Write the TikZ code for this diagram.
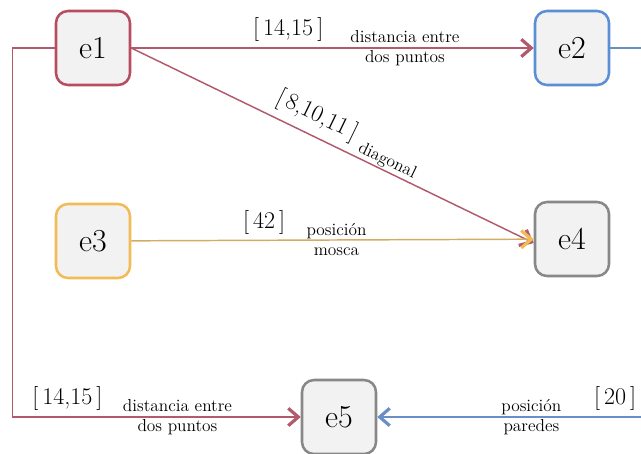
\documentclass[tikz,border=0pt]{standalone}
\usetikzlibrary{arrows.meta}
\definecolor{rojo}{HTML}{B05A6C}
\definecolor{rojoborde}{HTML}{B84C60}
\definecolor{azul}{HTML}{5B8FD4}
\definecolor{azullinea}{HTML}{6A8FC6}
\definecolor{amarillo}{HTML}{F2BB55}
\definecolor{gris}{HTML}{888888}
\definecolor{fondo}{HTML}{F2F2F2}
\tikzset{
  estado/.style={draw=#1, fill=fondo, line width=1.9pt, rounded corners=9pt,
    minimum width=55.5pt, minimum height=55.5pt, font=\fontsize{24}{26}\selectfont},
  flecha/.style 2 args={draw=#1, line width=1.1pt,
    -{Straight Barb[length=7.5pt,width=13pt,line width=2.4pt,color=#2]}},
  valor/.style={font=\fontsize{18}{20}\selectfont, inner sep=1pt},
  texto/.style={font=\fontsize{13}{15}\selectfont, align=center, inner sep=1pt},
}
\begin{document}
\begin{tikzpicture}[x=0.75pt, y=-0.75pt]
\useasboundingbox (0,0) rectangle (641,453);
\clip (0,0) rectangle (641,453);
\node[estado=rojoborde] (e1) at (93,48) {e1};
\node[estado=azul] (e2) at (572,48) {e2};
\node[estado=amarillo] (e3) at (93,241) {e3};
\node[estado=gris] (e4) at (572,239) {e4};
\node[estado=gris] (e5) at (339,417) {e5};
\draw[flecha={rojo}{rojo}] (e1) -- (e2)
  node[valor, pos=0.39, above=3pt] {[\,14,15\,]}
  node[texto, pos=0.68] {distancia entre\\dos puntos};
\draw[flecha={rojo}{rojo}] (e1.east) -- (e4.186)
  node[valor, sloped, pos=0.44, above=4.5pt] {[\,8,10,11\,]}
  node[texto, sloped, pos=0.625, above=0pt] {diagonal};
\draw[flecha={amarillo!70!gris}{amarillo}] (e3) -- (e4)
  node[valor, pos=0.33, above=3pt] {[\,42\,]}
  node[texto, pos=0.51] {posición\\mosca};
\draw[flecha={rojo}{rojo}] (e1.west) -- ++(-42,0) |- (e5)
  node[valor, pos=0.595, above=3pt] {[\,14,15\,]}
  node[texto, pos=0.786] {distancia entre\\dos puntos};
\draw[flecha={azullinea}{azullinea}] (e2.east) -- ++(60,0) |- (e5)
  node[valor, pos=0.594, above=3pt] {[\,20\,]}
  node[texto, pos=0.737] {posición\\paredes};
\end{tikzpicture}
\end{document}
